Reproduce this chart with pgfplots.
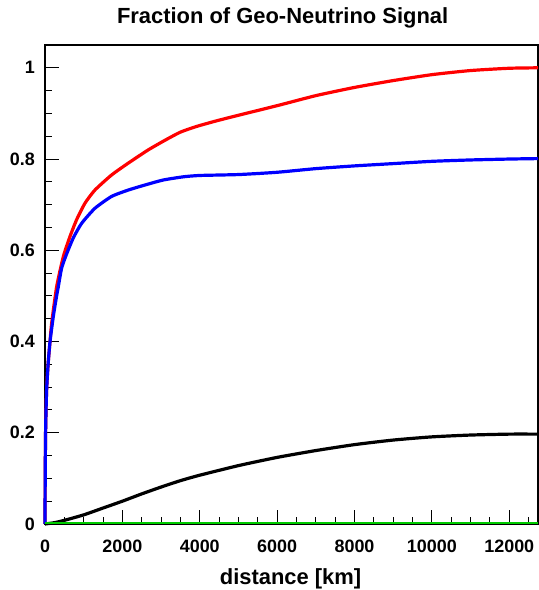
\documentclass[border=0pt]{standalone}
\usepackage{fontspec}
\setmainfont{Liberation Sans}
\usepackage{pgfplots}
\pgfplotsset{compat=1.18}
\begin{document}
\begin{tikzpicture}
\useasboundingbox (-45bp,-66bp) rectangle (494bp,524bp);
\begin{axis}[
  at={(0,0)}, anchor=south west,
  scale only axis, width=493bp, height=479bp,
  xmin=0, xmax=12742, ymin=0, ymax=1.05,
  clip=false, scaled x ticks=false, scaled y ticks=false,
  axis line style={line width=1.6bp},
  xtick={0,2000,4000,6000,8000,10000,12000},
  xticklabels={0,2000,4000,6000,8000,10000,12000},
  minor xtick={500,1000,1500,2500,3000,3500,4500,5000,5500,6500,7000,7500,8500,9000,9500,10500,11000,11500,12500},
  ytick={0,0.2,0.4,0.6,0.8,1},
  yticklabels={0,0.2,0.4,0.6,0.8,1},
  minor ytick={0.05,0.1,0.15,0.25,0.3,0.35,0.45,0.5,0.55,0.65,0.7,0.75,0.85,0.9,0.95,1.05},
  tick align=inside,
  xtick pos=left, ytick pos=left,
  major tick length=14bp, minor tick length=7bp,
  every tick/.style={black, line width=1bp},
  ticklabel style={font=\fontsize{18}{18}\selectfont\bfseries, inner sep=0pt},
  xticklabel style={anchor=base, yshift=-28bp},
  yticklabel style={anchor=east, xshift=-10bp},
]
\addplot[red, line width=3.2bp, smooth, tension=0.35] coordinates {
(0,0)(5,0.1)(15,0.2)(40,0.29)(80,0.35)(130,0.40)(172,0.44)(301,0.52)(473,0.586)(645,0.630)(817,0.667)(1032,0.703)(1290,0.732)(1720,0.765)(2151,0.791)(2667,0.820)(3140,0.843)(3500,0.859)(3900,0.871)(4400,0.883)(5000,0.896)(6000,0.917)(7000,0.939)(8000,0.957)(9000,0.972)(10000,0.985)(11000,0.994)(12000,0.999)(12742,1.0)};
\addplot[blue, line width=3.2bp, smooth, tension=0.35] coordinates {
(0,0)(5,0.1)(15,0.2)(40,0.29)(80,0.35)(130,0.40)(215,0.455)(300,0.50)(344,0.52)(430,0.561)(559,0.592)(731,0.627)(946,0.659)(1290,0.692)(1720,0.718)(2151,0.732)(2580,0.743)(3054,0.754)(3570,0.761)(4000,0.764)(5000,0.766)(6000,0.771)(7000,0.779)(8000,0.785)(9000,0.79)(10000,0.795)(11000,0.798)(12000,0.8)(12742,0.801)};
\addplot[black, line width=3.2bp, smooth, tension=0.35] coordinates {
(0,0)(250,0.003)(500,0.008)(1000,0.02)(1500,0.035)(2000,0.05)(2500,0.066)(3000,0.081)(3500,0.095)(4000,0.107)(5000,0.128)(6000,0.146)(7000,0.161)(8000,0.174)(9000,0.184)(10000,0.191)(11000,0.195)(12000,0.197)(12742,0.197)};
\addplot[green!80!black, line width=2bp] coordinates {
(0,0.002)(12742,0.002)};
\node[font=\fontsize{22}{22}\selectfont\bfseries, anchor=center] at (axis description cs:0.482,1.056) {Fraction of Geo-Neutrino Signal};
\node[font=\fontsize{22}{22}\selectfont\bfseries, anchor=base] at (axis description cs:0.498,-0.127) {distance [km]};
\end{axis}
\end{tikzpicture}
\end{document}
